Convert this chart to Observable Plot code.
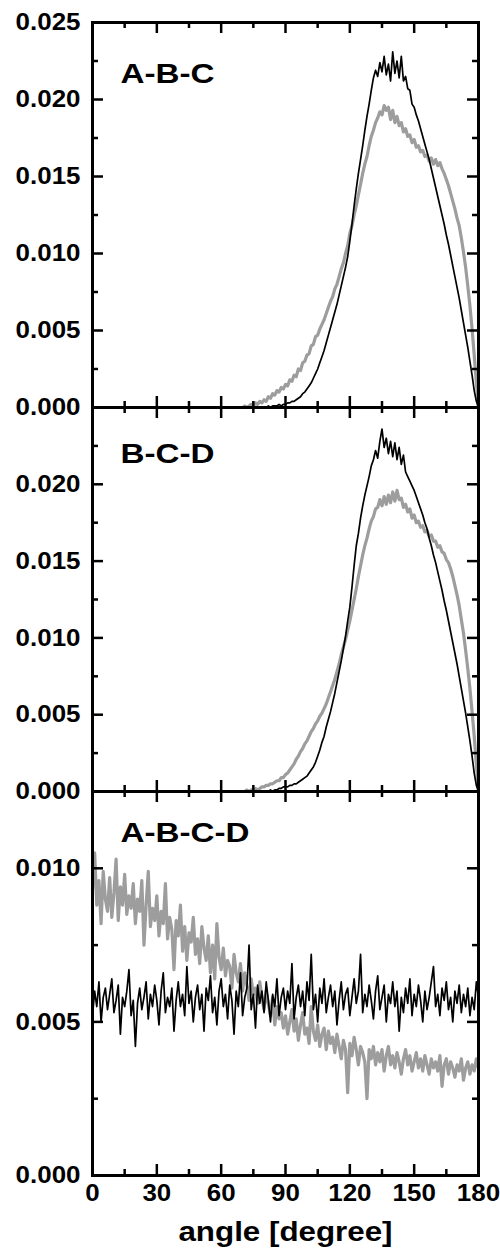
<!DOCTYPE html>
<html><head><meta charset="utf-8">
<script src="https://cdn.jsdelivr.net/npm/d3@7"></script>
<script src="https://cdn.jsdelivr.net/npm/@observablehq/plot@0.6"></script>
<style>
body{margin:0;background:#fff;}
#wrap{position:relative;width:500px;height:1249px;overflow:hidden;background:#fff;}
#wrap svg{position:absolute;left:0;overflow:visible;}
</style></head><body><div id="wrap"></div>
<script>
// ---------- data ----------
const xLabels = [0, 30, 60, 90, 120, 150, 180];
const xMinor = [15, 45, 75, 105, 135, 165];
const yLabelsTop = [0, 0.005, 0.010, 0.015, 0.020, 0.025];
const yLabelsMid = [0, 0.005, 0.010, 0.015, 0.020];
const yLabelsBottom = [0, 0.005, 0.010];
const yMajorTop = [0.005, 0.010, 0.015, 0.020];
const yMinorTop = [0.0025, 0.0075, 0.0125, 0.0175, 0.0225];
const yMajorBottom = [0.005, 0.010];
const yMinorBottom = [0.0025, 0.0075, 0.0125];
const panelLabels = ["A-B-C", "B-C-D", "A-B-C-D"];
const xTitle = "angle [degree]";

const anglesPeak = d3.range(70, 181);   // sample angles 70..180
const anglesFlat = d3.range(0, 181);    // sample angles 0..180

const abcBlack = [
0,0,0,0,0,0,0,0,0,0,
0,0,0.0001,0,0.0001,0.0001,0.0001,0.0002,0.0001,0.0002,
0.0002,0.0003,0.0003,0.0004,0.0004,0.0005,0.0006,0.0007,0.0009,0.0010,
0.0012,0.0014,0.0016,0.0019,0.0022,0.0025,0.0029,0.0033,0.0037,0.0042,
0.0047,0.0052,0.0057,0.0062,0.0067,0.0073,0.0079,0.0085,0.0091,0.0098,
0.0108,0.0119,0.0131,0.0142,0.0152,0.0161,0.0170,0.0180,0.0189,0.0197,
0.0206,0.0214,0.0219,0.0215,0.0224,0.0218,0.0228,0.0216,0.0223,0.0212,
0.0231,0.0217,0.0225,0.0214,0.0228,0.0212,0.0215,0.0207,0.0206,0.0197,
0.0195,0.0190,0.0186,0.0181,0.0176,0.0171,0.0166,0.0161,0.0155,0.0149,
0.0143,0.0137,0.0131,0.0125,0.0119,0.0112,0.0106,0.0099,0.0092,0.0085,
0.0078,0.0071,0.0063,0.0055,0.0047,0.0039,0.0030,0.0021,0.0011,0.0004,0.0000];

const abcGray = [
0,0.0001,0,0.0001,0.0002,0.0001,0.0003,0.0002,0.0004,0.0003,
0.0005,0.0004,0.0007,0.0006,0.0009,0.0008,0.0011,0.0010,0.0013,0.0012,
0.0015,0.0014,0.0018,0.0017,0.0021,0.0020,0.0025,0.0024,0.0029,0.0030,
0.0034,0.0035,0.0040,0.0041,0.0046,0.0047,0.0051,0.0054,0.0057,0.0061,
0.0065,0.0069,0.0072,0.0077,0.0080,0.0085,0.0090,0.0094,0.0100,0.0105,
0.0113,0.0118,0.0125,0.0131,0.0138,0.0145,0.0152,0.0158,0.0163,0.0170,
0.0176,0.0180,0.0185,0.0188,0.0192,0.0190,0.0196,0.0193,0.0195,0.0187,
0.0193,0.0185,0.0189,0.0183,0.0185,0.0179,0.0181,0.0176,0.0177,0.0172,
0.0174,0.0169,0.0170,0.0166,0.0167,0.0163,0.0164,0.0160,0.0162,0.0158,
0.0161,0.0157,0.0159,0.0155,0.0152,0.0148,0.0144,0.0139,0.0134,0.0129,
0.0123,0.0118,0.0110,0.0101,0.0091,0.0079,0.0066,0.0051,0.0034,0.0016,0.0000];

const bcdBlack = [
0,0,0,0,0,0,0,0,0,0,
0,0,0,0.0001,0,0.0001,0.0001,0.0002,0.0002,0.0003,
0.0003,0.0003,0.0004,0.0004,0.0005,0.0005,0.0006,0.0007,0.0008,0.0009,
0.0010,0.0012,0.0014,0.0016,0.0019,0.0023,0.0027,0.0032,0.0036,0.0042,
0.0047,0.0052,0.0058,0.0064,0.0071,0.0078,0.0085,0.0093,0.0101,0.0111,
0.0120,0.0133,0.0147,0.0160,0.0168,0.0178,0.0186,0.0193,0.0199,0.0205,
0.0212,0.0216,0.0222,0.0217,0.0228,0.0236,0.0224,0.0230,0.0220,0.0228,
0.0218,0.0227,0.0216,0.0224,0.0213,0.0219,0.0208,0.0205,0.0202,0.0199,
0.0196,0.0192,0.0188,0.0184,0.0180,0.0175,0.0171,0.0165,0.0160,0.0154,
0.0149,0.0143,0.0137,0.0131,0.0124,0.0118,0.0111,0.0104,0.0097,0.0090,
0.0083,0.0075,0.0067,0.0059,0.0051,0.0042,0.0033,0.0023,0.0012,0.0004,0.0000];

const bcdGray = [
0,0,0.0001,0,0.0001,0.0001,0.0002,0.0001,0.0002,0.0003,
0.0003,0.0004,0.0004,0.0005,0.0005,0.0006,0.0007,0.0007,0.0009,0.0009,
0.0011,0.0012,0.0014,0.0016,0.0018,0.0021,0.0023,0.0026,0.0028,0.0031,
0.0033,0.0036,0.0039,0.0041,0.0044,0.0046,0.0049,0.0051,0.0054,0.0057,
0.0061,0.0065,0.0069,0.0073,0.0078,0.0083,0.0089,0.0094,0.0099,0.0105,
0.0111,0.0118,0.0125,0.0132,0.0140,0.0147,0.0154,0.0160,0.0165,0.0171,
0.0176,0.0179,0.0184,0.0185,0.0190,0.0186,0.0192,0.0187,0.0193,0.0188,
0.0195,0.0189,0.0196,0.0190,0.0191,0.0185,0.0187,0.0182,0.0184,0.0178,
0.0180,0.0175,0.0176,0.0172,0.0173,0.0169,0.0170,0.0166,0.0167,0.0163,
0.0163,0.0159,0.0160,0.0156,0.0155,0.0151,0.0149,0.0145,0.0140,0.0134,
0.0128,0.0121,0.0112,0.0103,0.0092,0.0080,0.0067,0.0052,0.0036,0.0018,0.0000];

const abcdBlack = [
0.0052,0.0060,0.0055,0.0063,0.0050,0.0058,0.0061,0.0054,0.0059,0.0064,
0.0053,0.0057,0.0062,0.0046,0.0058,0.0055,0.0060,0.0067,0.0052,0.0057,
0.0042,0.0056,0.0061,0.0054,0.0058,0.0063,0.0051,0.0059,0.0055,0.0062,
0.0057,0.0049,0.0060,0.0066,0.0053,0.0058,0.0055,0.0061,0.0047,0.0057,
0.0063,0.0055,0.0059,0.0052,0.0068,0.0056,0.0060,0.0050,0.0058,0.0062,
0.0054,0.0059,0.0047,0.0061,0.0057,0.0065,0.0053,0.0058,0.0049,0.0060,
0.0064,0.0055,0.0059,0.0051,0.0062,0.0057,0.0046,0.0060,0.0055,0.0066,
0.0052,0.0058,0.0061,0.0075,0.0054,0.0059,0.0048,0.0062,0.0056,0.0060,
0.0053,0.0063,0.0057,0.0050,0.0059,0.0055,0.0064,0.0052,0.0058,0.0061,
0.0054,0.0060,0.0056,0.0069,0.0051,0.0058,0.0062,0.0055,0.0060,0.0052,
0.0063,0.0057,0.0072,0.0054,0.0059,0.0050,0.0061,0.0056,0.0064,0.0053,
0.0058,0.0062,0.0055,0.0060,0.0049,0.0057,0.0063,0.0054,0.0059,0.0061,
0.0052,0.0058,0.0064,0.0056,0.0060,0.0072,0.0053,0.0059,0.0055,0.0062,
0.0057,0.0051,0.0060,0.0065,0.0054,0.0058,0.0062,0.0050,0.0059,0.0056,
0.0063,0.0055,0.0060,0.0047,0.0058,0.0053,0.0061,0.0056,0.0064,0.0052,
0.0059,0.0055,0.0062,0.0057,0.0050,0.0060,0.0054,0.0058,0.0063,0.0068,
0.0055,0.0059,0.0052,0.0061,0.0057,0.0063,0.0054,0.0058,0.0050,0.0060,
0.0056,0.0062,0.0053,0.0059,0.0055,0.0061,0.0052,0.0058,0.0054,0.0063,
0.0058];

const abcdGray = [
0.0093,0.0105,0.0088,0.0096,0.0082,0.0099,0.0090,0.0086,0.0097,0.0084,
0.0092,0.0103,0.0083,0.0094,0.0088,0.0098,0.0085,0.0091,0.0087,0.0095,
0.0082,0.0090,0.0086,0.0096,0.0075,0.0088,0.0099,0.0081,0.0087,0.0083,
0.0091,0.0078,0.0086,0.0082,0.0095,0.0077,0.0084,0.0080,0.0067,0.0083,
0.0078,0.0088,0.0073,0.0081,0.0070,0.0079,0.0076,0.0084,0.0072,0.0077,
0.0069,0.0081,0.0074,0.0070,0.0078,0.0066,0.0075,0.0064,0.0082,0.0071,
0.0067,0.0074,0.0065,0.0070,0.0068,0.0061,0.0072,0.0066,0.0063,0.0069,
0.0060,0.0066,0.0062,0.0057,0.0064,0.0059,0.0061,0.0056,0.0063,0.0058,
0.0054,0.0060,0.0056,0.0052,0.0058,0.0049,0.0055,0.0051,0.0053,0.0048,
0.0052,0.0046,0.0050,0.0054,0.0047,0.0051,0.0044,0.0049,0.0053,0.0046,
0.0048,0.0043,0.0055,0.0047,0.0044,0.0049,0.0042,0.0046,0.0048,0.0041,
0.0047,0.0043,0.0045,0.0040,0.0046,0.0042,0.0038,0.0044,0.0041,0.0027,
0.0043,0.0039,0.0045,0.0041,0.0036,0.0042,0.0040,0.0037,0.0025,0.0041,
0.0038,0.0042,0.0036,0.0040,0.0037,0.0041,0.0034,0.0039,0.0042,0.0036,
0.0039,0.0035,0.0040,0.0037,0.0033,0.0038,0.0041,0.0036,0.0039,0.0034,
0.0037,0.0040,0.0035,0.0038,0.0034,0.0039,0.0036,0.0033,0.0038,0.0035,
0.0037,0.0034,0.0039,0.0029,0.0036,0.0038,0.0033,0.0037,0.0035,0.0032,
0.0036,0.0034,0.0038,0.0031,0.0035,0.0037,0.0033,0.0036,0.0034,0.0038,
0.0035];

// ---------- layout / style ----------
const W = 500, ML = 92, MR = 22, PAD = 16;
const FONT = "'Liberation Sans', Arial, Helvetica, sans-serif";
const GRAY = "#9d9d9d";
const MAJ = 11, MIN = 6;

function rows(angles, vals) { return angles.map((a, i) => ({a, v: vals[i]})); }

function panel(o) {
  const plotW = W - ML - MR;
  const h = o.h;
  const marks = [
    Plot.line(rows(o.angles, o.gray), {x: "a", y: "v", stroke: GRAY, strokeWidth: 3.2}),
    Plot.line(rows(o.angles, o.black), {x: "a", y: "v", stroke: "black", strokeWidth: 1.7}),
    // inward ticks: bottom and top
    Plot.tickX(xLabels, {x: d => d, insetTop: h - MAJ, strokeWidth: 2.5}),
    Plot.tickX(xMinor, {x: d => d, insetTop: h - MIN, strokeWidth: 2.5}),
    Plot.tickX(xLabels, {x: d => d, insetBottom: h - MAJ, strokeWidth: 2.5}),
    Plot.tickX(xMinor, {x: d => d, insetBottom: h - MIN, strokeWidth: 2.5}),
    // inward ticks: left and right
    Plot.tickY(o.yMajor, {y: d => d, insetRight: plotW - MAJ, strokeWidth: 2.5}),
    Plot.tickY(o.yMinor, {y: d => d, insetRight: plotW - MIN, strokeWidth: 2.5}),
    Plot.tickY(o.yMajor, {y: d => d, insetLeft: plotW - MAJ, strokeWidth: 2.5}),
    Plot.tickY(o.yMinor, {y: d => d, insetLeft: plotW - MIN, strokeWidth: 2.5}),
    Plot.frame({stroke: "black", strokeWidth: 3}),
    Plot.text([o.label], {frameAnchor: "top-left", textAnchor: "start", lineAnchor: "top",
      dx: 28, dy: o.labelDy, fontSize: 27, fontWeight: "bold", fill: "black"})
  ];
  if (o.showX) {
    marks.push(Plot.text([xTitle], {frameAnchor: "bottom", textAnchor: "middle", lineAnchor: "middle",
      dy: 57, fontSize: 27, fontWeight: "bold", fill: "black"}));
  }
  const svg = Plot.plot({
    width: W, height: h + o.mt + o.mb,
    marginLeft: ML, marginRight: MR, marginTop: o.mt, marginBottom: o.mb,
    style: {background: "transparent", fontFamily: FONT, fontSize: "24px", fontWeight: "bold", color: "black", overflow: "visible"},
    x: {domain: [0, 180], ticks: o.showX ? xLabels : [], tickSize: 0, tickPadding: 8, label: null, axis: o.showX ? "bottom" : null},
    y: {domain: o.yDomain, ticks: o.yLabels, tickSize: 0, tickPadding: 12, tickFormat: d3.format(".3f"), label: null},
    marks
  });
  svg.style.top = o.top + "px";
  document.getElementById("wrap").appendChild(svg);
  // the reference lettering is horizontally wide: stretch glyphs to match
  svg.querySelectorAll("text").forEach(t => {
    const s = t.textContent;
    if (!s) return;
    const f = panelLabels.includes(s) ? 1.23 : (s === xTitle ? 1.16 : 1.08);
    const len = t.getComputedTextLength();
    if (len > 0) {
      t.setAttribute("textLength", (len * f).toFixed(1));
      t.setAttribute("lengthAdjust", "spacingAndGlyphs");
    }
  });
}

panel({label: panelLabels[0], angles: anglesPeak, black: abcBlack, gray: abcGray,
  yDomain: [0, 0.025], yLabels: yLabelsTop, yMajor: yMajorTop, yMinor: yMinorTop,
  top: 0, mt: 22, h: 385, mb: PAD, labelDy: 41, showX: false});
panel({label: panelLabels[1], angles: anglesPeak, black: bcdBlack, gray: bcdGray,
  yDomain: [0, 0.025], yLabels: yLabelsMid, yMajor: yMajorTop, yMinor: yMinorTop,
  top: 407 - PAD, mt: PAD, h: 384, mb: PAD, labelDy: 36, showX: false});
panel({label: panelLabels[2], angles: anglesFlat, black: abcdBlack, gray: abcdGray,
  yDomain: [0, 0.0125], yLabels: yLabelsBottom, yMajor: yMajorBottom, yMinor: yMinorBottom,
  top: 791 - PAD, mt: PAD, h: 384, mb: 74, labelDy: 31, showX: true});
</script></body></html>
